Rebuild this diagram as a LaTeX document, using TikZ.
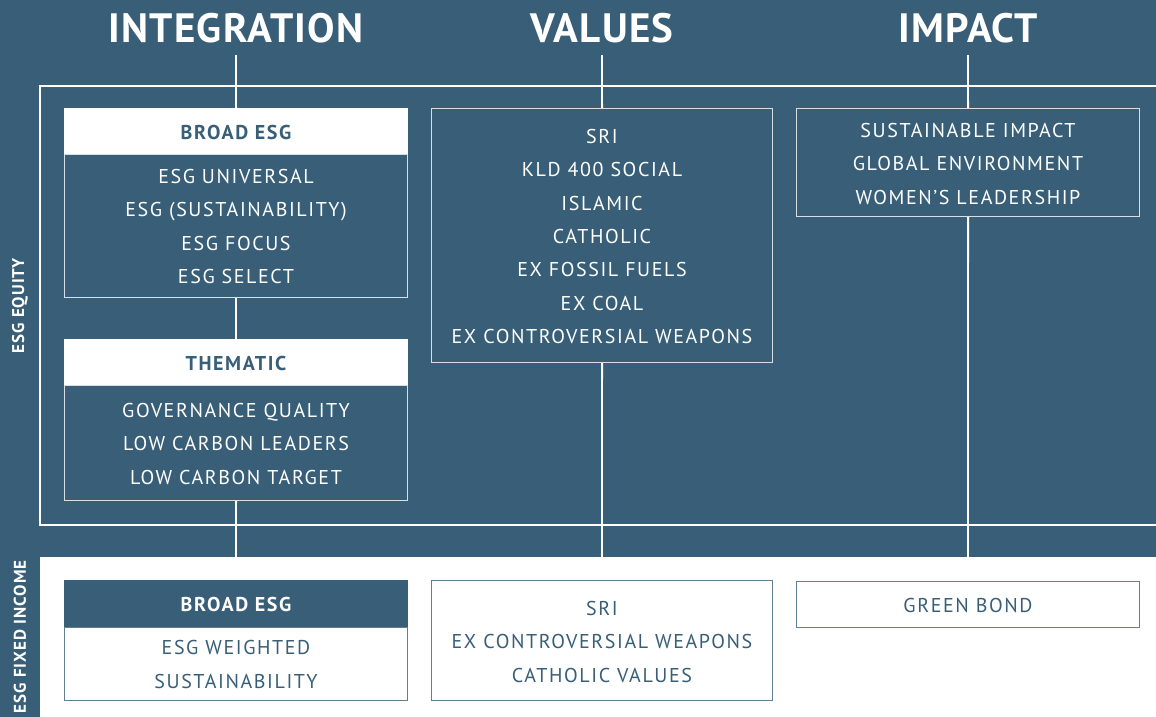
\documentclass[tikz,border=0pt]{standalone}
\usepackage{fontspec}
\setmainfont{PT Sans}
\newfontfamily\itemfont[LetterSpace=8]{PT Sans}
\newfontfamily\headfont[LetterSpace=3]{PT Sans}
\newfontfamily\sidefont[LetterSpace=6]{PT Sans}
\definecolor{esgblue}{HTML}{385F77}
\tikzset{
  colhead/.style={font=\headfont\bfseries\fontsize{41}{41}\selectfont, text=white, anchor=base, inner xsep=0pt, inner ysep=12pt, text depth=0pt},
  item/.style={font=\itemfont\fontsize{20}{20}\selectfont, anchor=base, inner sep=0pt},
  bolditem/.style={font=\itemfont\bfseries\fontsize{20}{20}\selectfont, anchor=base, inner sep=0pt},
  box/.style={anchor=north west, inner sep=0pt, line width=1.2pt},
  conn/.style={draw=white, line width=1.8pt},
  sidelabel/.style={font=\sidefont\bfseries\fontsize{17}{17}\selectfont, text=white, rotate=90, inner sep=0pt},
}
\begin{document}
\begin{tikzpicture}[x=1pt,y=-1pt]
\useasboundingbox (0,0) rectangle (1156,717);
\fill[esgblue] (0,0) rectangle (1156,717);
\fill[white] (40,557) rectangle (1156,717);
% equity frame
\draw[white, line width=1.2pt] (1160,86) -- (40,86) -- (40,525) -- (1160,525);
% headers
\node[colhead] (hInt) at (236,43) {INTEGRATION};
\node[colhead] (hVal) at (602,43) {VALUES};
\node[colhead] (hImp) at (968,43) {IMPACT};
% column 1 boxes
\node[box, fill=white, draw=white, minimum width=343pt, minimum height=46pt] (broadHead) at (64,108) {};
\node[box, draw=white!80!esgblue, minimum width=343pt, minimum height=143pt] (broadBody) at (64,154) {};
\node[box, fill=white, draw=white, minimum width=343pt, minimum height=46pt] (themHead) at (64,339) {};
\node[box, draw=white!80!esgblue, minimum width=343pt, minimum height=115pt] (themBody) at (64,385) {};
% column 2 / 3
\node[box, draw=white!80!esgblue, minimum width=341pt, minimum height=254pt] (valBox) at (431,108) {};
\node[box, draw=white!80!esgblue, minimum width=343pt, minimum height=108pt] (impBox) at (796,108) {};
% connector ends
\coordinate (eInt) at (236,557);
\coordinate (eVal) at (602,557);
\coordinate (eImp) at (968,557);
% connectors
\draw[conn] (hInt.south) -- (broadHead.north);
\draw[conn] (broadBody.south) -- (themHead.north);
\draw[conn] (themBody.south) -- (eInt);
\draw[conn] (hVal.south) -- (valBox.north);
\draw[conn] (valBox.south) -- (eVal);
\draw[conn] (hImp.south) -- (impBox.north);
\draw[conn] (impBox.south) -- (eImp);
% column 1 texts
\node[bolditem, text=esgblue] (tBroad) at (236,139) {BROAD ESG};
\node[item, text=white] (t11) at (236,183) {ESG UNIVERSAL};
\node[item, text=white] (t12) at (236,216.5) {ESG (SUSTAINABILITY)};
\node[item, text=white] (t13) at (236,250) {ESG FOCUS};
\node[item, text=white] (t14) at (236,283.5) {ESG SELECT};
\node[bolditem, text=esgblue] (tThem) at (236,370) {THEMATIC};
\node[item, text=white] (t21) at (236,417) {GOVERNANCE QUALITY};
\node[item, text=white] (t22) at (236,450.5) {LOW CARBON LEADERS};
\node[item, text=white] (t23) at (236,484) {LOW CARBON TARGET};
% column 2 texts
\node[item, text=white] (v1) at (602,143) {SRI};
\node[item, text=white] (v2) at (602,176.5) {KLD 400 SOCIAL};
\node[item, text=white] (v3) at (602,210) {ISLAMIC};
\node[item, text=white] (v4) at (602,243) {CATHOLIC};
\node[item, text=white] (v5) at (602,276.5) {EX FOSSIL FUELS};
\node[item, text=white] (v6) at (602,310) {EX COAL};
\node[item, text=white] (v7) at (602,343) {EX CONTROVERSIAL WEAPONS};
% column 3 texts
\node[item, text=white] (i1) at (968,137) {SUSTAINABLE IMPACT};
\node[item, text=white] (i2) at (968,170.5) {GLOBAL ENVIRONMENT};
\node[item, text=white] (i3) at (968,204) {WOMEN’S LEADERSHIP};
% fixed income
\node[box, fill=esgblue, draw=esgblue, minimum width=343pt, minimum height=47pt] (fiHead) at (64,580) {};
\node[box, draw=esgblue!80, minimum width=343pt, minimum height=73pt] (fiBody) at (64,627) {};
\node[box, draw=esgblue!80, minimum width=341pt, minimum height=120pt] (fiVal) at (431,580) {};
\node[box, draw=esgblue!80, minimum width=343pt, minimum height=46pt] (fiImp) at (796,581) {};
\node[bolditem, text=white] (fB) at (236,611) {BROAD ESG};
\node[item, text=esgblue] (f1) at (236,654) {ESG WEIGHTED};
\node[item, text=esgblue] (f2) at (236,688) {SUSTAINABILITY};
\node[item, text=esgblue] (fv1) at (602,615) {SRI};
\node[item, text=esgblue] (fv2) at (602,648) {EX CONTROVERSIAL WEAPONS};
\node[item, text=esgblue] (fv3) at (602,682) {CATHOLIC VALUES};
\node[item, text=esgblue] (fi1) at (968,612) {GREEN BOND};
% side labels
\node[sidelabel] (lEq) at (20,306) {ESG EQUITY};
\node[sidelabel] (lFi) at (20,637) {ESG FIXED INCOME};
\end{tikzpicture}
\end{document}
